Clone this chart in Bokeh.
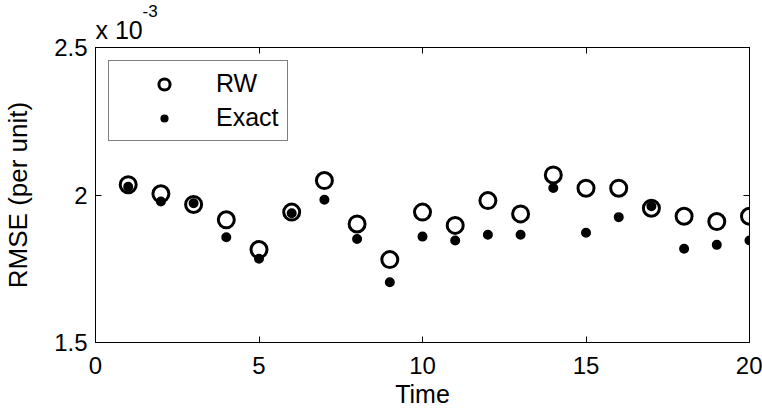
from bokeh.plotting import figure
from bokeh.models import (ColumnDataSource, Range1d, LinearAxis, FixedTicker,
                          CustomJSTickFormatter, Legend, LegendItem, Title)
from bokeh.embed import file_html
from bokeh.resources import INLINE

# ---- data (RMSE in per unit) ----
time = [1, 2, 3, 4, 5, 6, 7, 8, 9, 10, 11, 12, 13, 14, 15, 16, 17, 18, 19, 20]
rw = [2.035e-3, 2.004e-3, 1.968e-3, 1.916e-3, 1.815e-3, 1.942e-3, 2.049e-3,
      1.902e-3, 1.781e-3, 1.942e-3, 1.897e-3, 1.981e-3, 1.936e-3, 2.068e-3,
      2.023e-3, 2.023e-3, 1.955e-3, 1.928e-3, 1.910e-3, 1.928e-3]
exact = [2.028e-3, 1.978e-3, 1.972e-3, 1.857e-3, 1.784e-3, 1.938e-3, 1.984e-3,
         1.851e-3, 1.704e-3, 1.859e-3, 1.846e-3, 1.865e-3, 1.865e-3, 2.024e-3,
         1.872e-3, 1.925e-3, 1.962e-3, 1.818e-3, 1.831e-3, 1.846e-3]
x_ticks = [0, 5, 10, 15, 20]
y_ticks = [1.5e-3, 2.0e-3, 2.5e-3]
y_tick_labels = ["1.5", "2", "2.5"]
series_names = ["RW", "Exact"]
x_title = "Time"
y_title = "RMSE (per unit)"
multiplier = "x 10"
multiplier_exp = "-3"

FONT = "Liberation Sans"
TICK_FS = "24px"
LABEL_FS = "25px"

src = ColumnDataSource(dict(t=time, rw=rw, ex=exact))

p = figure(width=762, height=410, output_backend="svg", toolbar_location=None,
           x_range=Range1d(0, 20), y_range=Range1d(1.5e-3, 2.5e-3),
           min_border_left=95, min_border_right=13, min_border_top=47,
           min_border_bottom=68, background_fill_color="white",
           border_fill_color="white")
p.outline_line_color = "black"
p.outline_line_width = 1
p.grid.visible = False

def style_axis(ax, show_labels):
    ax.axis_line_color = "black"
    ax.axis_line_width = 1
    ax.major_tick_in = 6
    ax.major_tick_out = 0
    ax.major_tick_line_color = "black"
    ax.minor_tick_line_color = None
    ax.major_label_text_font = FONT
    ax.major_label_text_font_size = TICK_FS
    ax.major_label_text_color = "black"
    ax.axis_label_text_font = FONT
    ax.axis_label_text_font_size = LABEL_FS
    ax.axis_label_text_font_style = "normal"
    ax.axis_label_text_color = "black"
    if not show_labels:
        ax.formatter = CustomJSTickFormatter(code="return ''")
        ax.major_label_standoff = 0

xb = p.xaxis[0]
xb.ticker = FixedTicker(ticks=x_ticks)
style_axis(xb, True)
xb.axis_label = x_title
xb.major_label_text_line_height = 1.0
xb.axis_label_text_line_height = 1.0
xb.major_label_standoff = 14
xb.axis_label_standoff = 3

yl = p.yaxis[0]
yl.ticker = FixedTicker(ticks=y_ticks)
style_axis(yl, True)
yl.major_label_overrides = {v: s for v, s in zip(y_ticks, y_tick_labels)}
yl.axis_label = y_title
yl.axis_label_text_font_size = "26px"
yl.major_label_standoff = 8
yl.axis_label_standoff = 18

xt = LinearAxis(ticker=FixedTicker(ticks=x_ticks))
style_axis(xt, False)
p.add_layout(xt, "above")
yr = LinearAxis(ticker=FixedTicker(ticks=y_ticks))
style_axis(yr, False)
p.add_layout(yr, "right")

# Exact dots first (white rim keeps the legend dot small), RW rings on top
r_ex = p.scatter("t", "ex", source=src, marker="circle", size=13,
                 fill_color="black", line_color="white", line_width=3)
r_rw = p.scatter("t", "rw", source=src, marker="circle", size=16,
                 fill_color=None, line_color="black", line_width=3)

legend = Legend(items=[LegendItem(label=series_names[0], renderers=[r_rw]),
                       LegendItem(label=series_names[1], renderers=[r_ex])],
                location=(13, 201), margin=0, padding=8, spacing=5,
                glyph_width=94, glyph_height=28, label_standoff=5,
                label_text_font=FONT, label_text_font_size=LABEL_FS,
                label_text_color="black",
                border_line_color="black", border_line_width=1,
                background_fill_color="white", background_fill_alpha=1)
p.add_layout(legend, "center")

# "x 10^-3" multiplier, as two stacked left-aligned titles
p.title.text = multiplier_exp
p.title.align = "left"
p.title.offset = 47
p.title.standoff = -12
p.title.text_font = FONT
p.title.text_font_size = "17px"
p.title.text_font_style = "normal"
p.title.text_color = "black"
p.add_layout(Title(text=multiplier, align="left", offset=0, standoff=7,
                   text_font=FONT, text_font_size=LABEL_FS,
                   text_font_style="normal", text_color="black"), "above")

open("out.html", "w").write(file_html(p, INLINE))
